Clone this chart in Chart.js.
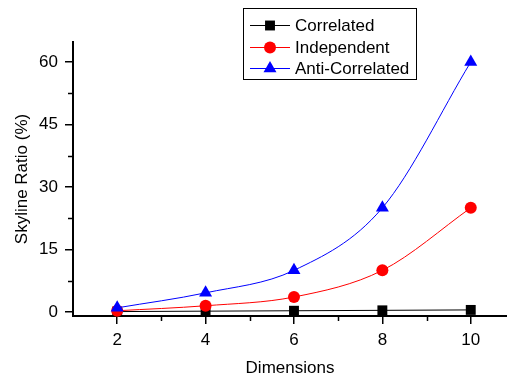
<!DOCTYPE html>
<html><head><meta charset="utf-8">
<script src="https://cdn.jsdelivr.net/npm/chart.js@4"></script>
<style>html,body{margin:0;padding:0;background:#fff}#wrap{width:507px;height:381px;position:relative}</style>
</head><body>
<div id="wrap"><canvas id="c" width="507" height="381"></canvas></div>
<script>
const dimensions = [2, 4, 6, 8, 10];
const correlated = [0.1, 0.2, 0.3, 0.4, 0.5];
const independent = [0.3, 1.5, 3.6, 10, 25];
const antiCorrelated = [1, 4.6, 10, 25, 60];
const xTicks = [2, 4, 6, 8, 10];
const yTicks = [0, 15, 30, 45, 60];
const xMinor = [3, 5, 7, 9];
const yMinor = [7.5, 22.5, 37.5, 52.5];
const seriesNames = ['Correlated', 'Independent', 'Anti-Correlated'];

const FONT = 'Liberation Sans, Arial, sans-serif';
const FS = 17;
const toXY = arr => arr.map((v, i) => ({x: dimensions[i], y: v}));

const minorTicks = {
  id: 'minorTicks',
  afterDraw(chart) {
    const ctx = chart.ctx, xs = chart.scales.x, ys = chart.scales.y;
    ctx.save();
    ctx.strokeStyle = '#000'; ctx.lineWidth = 1.5;
    xMinor.forEach(v => {
      const px = Math.round(xs.getPixelForValue(v)) + 0.5;
      ctx.beginPath(); ctx.moveTo(px, ys.bottom); ctx.lineTo(px, ys.bottom + 5); ctx.stroke();
    });
    yMinor.forEach(v => {
      const py = Math.round(ys.getPixelForValue(v)) + 0.5;
      ctx.beginPath(); ctx.moveTo(xs.left, py); ctx.lineTo(xs.left - 5, py); ctx.stroke();
    });
    ctx.restore();
  }
};

const legendBox = {
  id: 'legendBox',
  afterDraw(chart) {
    const ctx = chart.ctx;
    ctx.save();
    const bx = 243.5, by = 8.5, bw = 173, bh = 71;
    ctx.fillStyle = '#fff'; ctx.fillRect(bx, by, bw, bh);
    ctx.strokeStyle = '#000'; ctx.lineWidth = 1; ctx.strokeRect(bx, by, bw, bh);
    const rows = [25, 47, 68];
    chart.data.datasets.forEach((ds, i) => {
      const y = rows[i];
      ctx.strokeStyle = ds.borderColor; ctx.lineWidth = 1;
      ctx.beginPath(); ctx.moveTo(250, y + 0.5); ctx.lineTo(290, y + 0.5); ctx.stroke();
      ctx.fillStyle = ds.borderColor;
      Chart.helpers.drawPoint(ctx, {pointStyle: ds.pointStyle, radius: ds.pointRadius, borderWidth: 0, rotation: 0}, 270, y + 0.5);
      ctx.fillStyle = '#000'; ctx.font = FS + 'px ' + FONT; ctx.textBaseline = 'middle'; ctx.textAlign = 'left';
      ctx.fillText(seriesNames[i], 295, y + 1);
    });
    ctx.restore();
  }
};

const mk = (label, data, color, style, r, order) => ({
  label, data: toXY(data), borderColor: color, backgroundColor: color,
  pointBackgroundColor: color, pointBorderColor: color, pointBorderWidth: 0,
  pointStyle: style, pointRadius: r, pointHoverRadius: r, borderWidth: 1,
  cubicInterpolationMode: 'monotone', order, clip: false
});

new Chart(document.getElementById('c'), {
  type: 'line',
  data: {
    datasets: [
      mk(seriesNames[0], correlated, '#000000', 'rect', 7, 3),
      mk(seriesNames[1], independent, '#ff0000', 'circle', 6, 2),
      mk(seriesNames[2], antiCorrelated, '#0000ff', 'triangle', 7.5, 1)
    ]
  },
  options: {
    responsive: false, animation: false, devicePixelRatio: 1,
    layout: {autoPadding: false, padding: {top: 42, right: 0, bottom: 0, left: 0}},
    plugins: {legend: {display: false}, tooltip: {enabled: false}},
    scales: {
      x: {
        type: 'linear', min: 1, max: 10.82,
        afterBuildTicks: s => { s.ticks = xTicks.map(v => ({value: v})); },
        afterFit: s => { s.height = 65; s.paddingRight = 0; s.paddingLeft = 0; },
        grid: {display: true, drawOnChartArea: false, drawTicks: true, tickLength: 8, color: '#000', lineWidth: 1.5},
        border: {display: true, color: '#000', width: 2},
        ticks: {color: '#000', font: {family: FONT, size: FS}, padding: 6, maxRotation: 0},
        title: {display: true, text: 'Dimensions', color: '#000', font: {family: FONT, size: FS}, padding: {top: 0, bottom: 2}}
      },
      y: {
        type: 'linear', min: -0.96, max: 64.8,
        afterBuildTicks: s => { s.ticks = yTicks.map(v => ({value: v})); },
        afterFit: s => { s.width = 73; s.paddingTop = 0; s.paddingBottom = 0; },
        grid: {display: true, drawOnChartArea: false, drawTicks: true, tickLength: 8, color: '#000', lineWidth: 1.5},
        border: {display: true, color: '#000', width: 2},
        ticks: {color: '#000', font: {family: FONT, size: FS}, padding: 7},
        title: {display: true, text: 'Skyline Ratio (%)', color: '#000', font: {family: FONT, size: FS}, padding: {top: 12, bottom: 0}}
      }
    }
  },
  plugins: [minorTicks, legendBox]
});
</script>
</body></html>
